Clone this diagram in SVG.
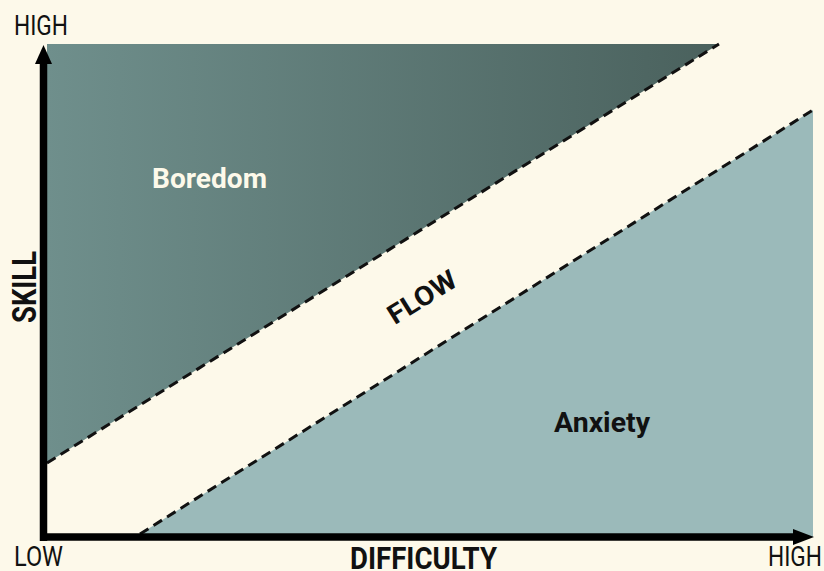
<svg xmlns="http://www.w3.org/2000/svg" width="824" height="571" viewBox="0 0 824 571">
  <defs>
    <linearGradient id="boreGrad" x1="47" y1="0" x2="719" y2="0" gradientUnits="userSpaceOnUse">
      <stop offset="0" stop-color="#6f8f8c"/>
      <stop offset="1" stop-color="#4a615d"/>
    </linearGradient>
  </defs>
  <style>
    .axislabel { font-family: Roboto, "Liberation Sans", sans-serif; font-size: 27px; fill: #111; }
    .bold { font-family: Roboto, "Liberation Sans", sans-serif; font-weight: bold; }
    .dash { fill: none; stroke: #111; stroke-width: 3; stroke-dasharray: 10 6; }
    .axis { stroke: #000; stroke-width: 7.5; fill: none; }
  </style>
  <rect x="0" y="0" width="824" height="571" fill="#fdf9ea"/>

  <g id="boredom">
    <polygon points="47,44 719,44 47,463" fill="url(#boreGrad)"/>
    <text class="bold" x="152" y="188" font-size="28" fill="#fdf9ea" textLength="115" lengthAdjust="spacingAndGlyphs">Boredom</text>
  </g>

  <g id="anxiety">
    <polygon points="140,534 813,110 813,537 140,537" fill="#9bbaba"/>
    <text class="bold" x="554" y="432" font-size="28" fill="#111" textLength="96" lengthAdjust="spacingAndGlyphs">Anxiety</text>
  </g>

  <g id="flow">
    <text class="bold" x="0" y="0" font-size="27" fill="#111" text-anchor="middle" textLength="76" lengthAdjust="spacingAndGlyphs" transform="translate(427,305) rotate(-32)">FLOW</text>
  </g>

  <g id="connectors">
    <line class="dash" x1="47" y1="463" x2="719" y2="44"/>
    <line class="dash" x1="140" y1="534" x2="813" y2="110"/>
    <line class="axis" x1="43.5" y1="60" x2="43.5" y2="541"/>
    <line class="axis" x1="40" y1="537" x2="796" y2="537"/>
    <polygon points="43.5,45 52,64 35,64" fill="#000"/>
    <polygon points="814,537 793,529 793,545" fill="#000"/>
  </g>

  <g id="labels">
    <text class="axislabel" x="14" y="35" textLength="54" lengthAdjust="spacingAndGlyphs">HIGH</text>
    <text class="axislabel" x="14" y="566" textLength="49" lengthAdjust="spacingAndGlyphs">LOW</text>
    <text class="axislabel" x="768" y="566" textLength="54" lengthAdjust="spacingAndGlyphs">HIGH</text>
    <text class="bold" x="350" y="569" font-size="31" fill="#111" textLength="147" lengthAdjust="spacingAndGlyphs">DIFFICULTY</text>
    <text class="bold" x="0" y="0" font-size="34" fill="#111" textLength="72" lengthAdjust="spacingAndGlyphs" transform="translate(36,323) rotate(-90)">SKILL</text>
  </g>
</svg>
